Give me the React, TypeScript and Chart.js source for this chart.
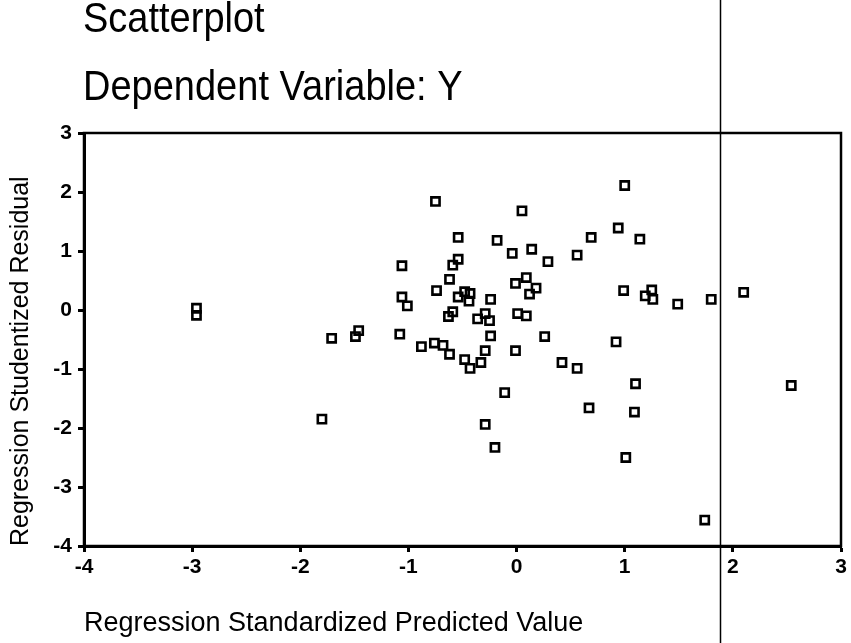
import React, { useEffect, useRef } from "react";
import { Chart, registerables } from "chart.js";

Chart.register(...registerables);

// Regression Standardized Predicted Value (x) for each case
const predictedValues = [
  -0.75, 0.05, -0.54, -0.18, -0.04, 0.14, 0.29, 0.56, -0.54, -0.59,
  -1.06, -0.62, 0.09, -0.01, 0.18, 0.12, -0.74, -1.06, -1.01, -0.48,
  -0.54, -0.43, -0.44, -0.24, -0.59, -0.63, -0.29, -0.36, -0.25, 0.01,
  0.09, -1.71, -1.46, -1.49, -1.08, -0.24, 0.26, -0.88, -0.76, -0.68,
  -0.62, -0.48, -0.43, -0.33, -0.29, -0.01, 0.42, 0.56, -0.11,
  1.0, 0.94, 0.69, 1.14, 0.99, 1.25, 1.19, 1.26, 1.49, 1.8,
  2.1, 0.92, 1.1, 2.54, 0.67, 1.09, 1.01, 1.74, -1.8, -0.29,
  -0.2, -2.96, -2.96,
];

// Regression Studentized Residual (y) for each case
const studentizedResiduals = [
  1.84, 1.68, 1.23, 1.18, 0.96, 1.03, 0.82, 0.93, 0.86, 0.76,
  0.75, 0.52, 0.55, 0.45, 0.37, 0.27, 0.33, 0.22, 0.07, 0.31,
  0.22, 0.28, 0.15, 0.18, -0.03, -0.11, -0.06, -0.15, -0.18, -0.06,
  -0.1, -0.48, -0.35, -0.45, -0.41, -0.44, -0.45, -0.62, -0.56, -0.6,
  -0.75, -0.84, -0.99, -0.89, -0.69, -0.69, -0.89, -0.99, -1.4,
  2.11, 1.39, 1.23, 1.2, 0.33, 0.34, 0.24, 0.18, 0.1, 0.18,
  0.3, -0.54, -1.25, -1.28, -1.66, -1.73, -2.5, -3.56, -1.85, -1.94,
  -2.33, 0.03, -0.09,
];

const xTickValues = [-4, -3, -2, -1, 0, 1, 2, 3];
const yTickValues = [-4, -3, -2, -1, 0, 1, 2, 3];

const chartTitle = "Scatterplot";
const chartSubtitle = "Dependent Variable: Y";
const xAxisTitle = "Regression Standardized Predicted Value";
const yAxisTitle = "Regression Studentized Residual";

// vertical fold line of the scanned page, in x-axis units
const scanFoldX = 1.88;

const FONT = '"Liberation Sans", Arial, Helvetica, sans-serif';

function drawStretchedText(ctx: CanvasRenderingContext2D, text: string, x: number, baseline: number) {
  ctx.save();
  ctx.translate(x, baseline);
  ctx.scale(1, 1.1);
  ctx.fillText(text, 0, 0);
  ctx.restore();
}

const framePlugin = {
  id: "frameAndHeader",
  afterDraw(chart: any) {
    const { ctx, chartArea: a, scales } = chart;
    ctx.save();
    ctx.strokeStyle = "#000";
    ctx.lineWidth = 2.5;
    ctx.strokeRect(a.left, a.top, a.right - a.left, a.bottom - a.top);

    const fx = Math.round(scales.x.getPixelForValue(scanFoldX)) + 0.5;
    ctx.lineWidth = 1.5;
    ctx.beginPath();
    ctx.moveTo(fx, 0);
    ctx.lineTo(fx, chart.height);
    ctx.stroke();

    ctx.fillStyle = "#000";
    ctx.font = `38px ${FONT}`;
    ctx.textAlign = "left";
    ctx.textBaseline = "alphabetic";
    drawStretchedText(ctx, chartTitle, a.left - 1, 32);
    drawStretchedText(ctx, chartSubtitle, a.left - 1, 100);
    ctx.restore();
  },
};

export default function App() {
  const canvasRef = useRef<HTMLCanvasElement | null>(null);

  useEffect(() => {
    const canvas = canvasRef.current;
    if (!canvas) return;
    const points = predictedValues.map((x, i) => ({ x, y: studentizedResiduals[i] }));
    const chart = new Chart(canvas, {
      type: "scatter",
      data: {
        datasets: [
          {
            data: points,
            pointStyle: "rect",
            pointRadius: 5.8,
            borderColor: "#000",
            backgroundColor: "rgba(0,0,0,0)",
            borderWidth: 2.6,
            showLine: false,
          } as any,
        ],
      },
      options: {
        animation: false,
        responsive: false,
        maintainAspectRatio: false,
        layout: { padding: { top: 133, right: 10, left: 0, bottom: 0 } },
        plugins: {
          legend: { display: false },
          tooltip: { enabled: false },
          title: { display: false },
        },
        scales: {
          x: {
            type: "linear",
            min: -4,
            max: 3,
            afterFit: (s: any) => {
              s.height = 97;
            },
            afterBuildTicks: (s: any) => {
              s.ticks = xTickValues.map((v) => ({ value: v }));
            },
            ticks: {
              color: "#000",
              font: { family: FONT, size: 21, weight: "bold" },
              padding: 3,
              maxRotation: 0,
            },
            grid: {
              display: true,
              drawOnChartArea: false,
              drawTicks: true,
              tickLength: 6,
              tickWidth: 3,
              tickColor: "#000",
            },
            border: { display: true, color: "#000", width: 3 },
            title: {
              display: true,
              text: xAxisTitle,
              align: "start",
              color: "#000",
              font: { family: FONT, size: 27 },
              padding: { top: 0, bottom: 3 },
            },
          },
          y: {
            type: "linear",
            min: -4,
            max: 3,
            afterFit: (s: any) => {
              s.width = 84;
            },
            afterBuildTicks: (s: any) => {
              s.ticks = yTickValues.map((v) => ({ value: v }));
            },
            ticks: {
              color: "#000",
              font: { family: FONT, size: 21, weight: "bold" },
              padding: 6,
            },
            grid: {
              display: true,
              drawOnChartArea: false,
              drawTicks: true,
              tickLength: 6,
              tickWidth: 3,
              tickColor: "#000",
            },
            border: { display: true, color: "#000", width: 3 },
            title: {
              display: true,
              text: yAxisTitle,
              align: "start",
              color: "#000",
              font: { family: FONT, size: 25 },
              padding: { top: 6, bottom: 0 },
            },
          },
        },
      } as any,
      plugins: [framePlugin],
    });
    return () => chart.destroy();
  }, []);

  return (
    <div style={{ position: "fixed", left: 0, top: 0, width: 851, height: 643, background: "#fff" }}>
      <canvas ref={canvasRef} width={851} height={643} style={{ display: "block" }} />
    </div>
  );
}
